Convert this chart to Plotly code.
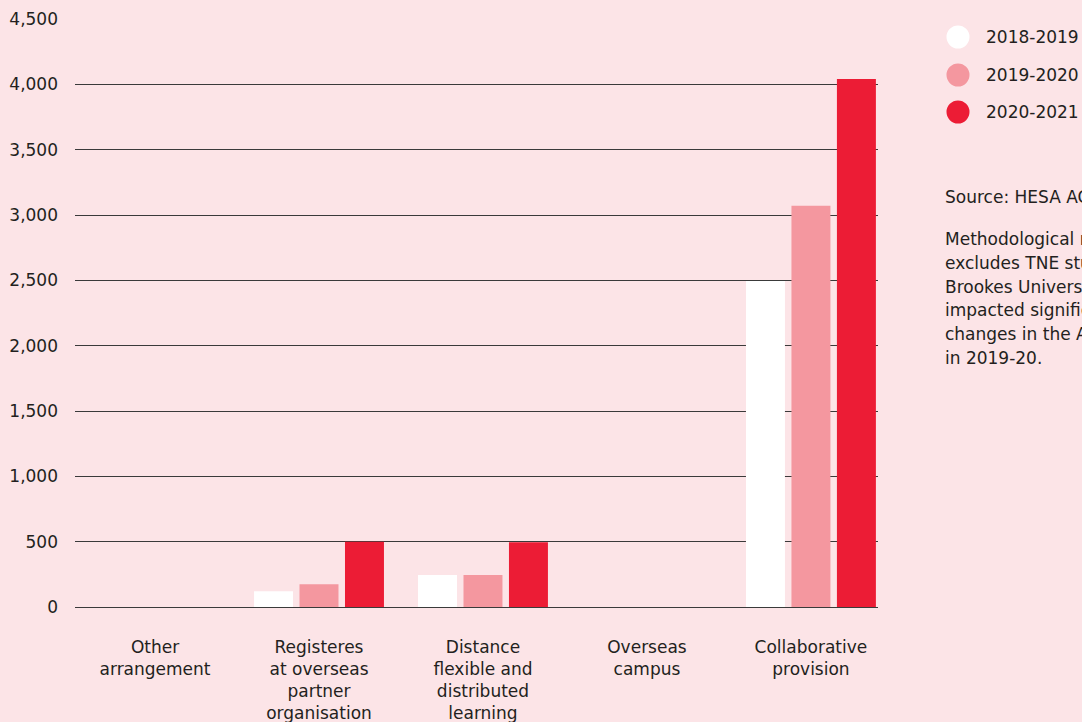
import plotly.graph_objects as go

# Categories and student counts per academic year
categories = [
    "Other<br>arrangement",
    "Registeres<br>at overseas<br>partner<br>organisation",
    "Distance<br>flexible and<br>distributed<br>learning",
    "Overseas<br>campus",
    "Collaborative<br>provision",
]
years = ["2018-2019", "2019-2020", "2020-2021"]
values_2018_19 = [0, 120, 245, 0, 2495]
values_2019_20 = [0, 175, 245, 0, 3070]
values_2020_21 = [0, 500, 495, 0, 4040]
y_ticks = [0, 500, 1000, 1500, 2000, 2500, 3000, 3500, 4000, 4500]

source_text = "Source: HESA AOR"
note_lines = [
    "Methodological note: this data",
    "excludes TNE students at Oxford",
    "Brookes University, which was",
    "impacted significantly by",
    "changes in the AOR collection",
    "in 2019-20.",
]

colors = ["#FFFFFF", "#F4979F", "#EC1C35"]
bg = "#FCE4E7"
text_color = "#231F20"
font_family = "DejaVu Sans"
font_size = 17

W, H = 1082, 722
ML, MR, MT, MB = 75, 204, 19, 115
PW, PH = W - ML - MR, H - MT - MB


def px_x(x):
    return (x - ML) / PW


def px_y(y):
    return (H - MB - y) / PH


fig = go.Figure()
for name, vals, col in zip(years, [values_2018_19, values_2019_20, values_2020_21], colors):
    fig.add_trace(go.Bar(
        x=list(range(len(categories))), y=vals, name=name,
        marker=dict(color=col, line=dict(width=0)),
        showlegend=False, hoverinfo="x+y+name",
    ))

# Legend: circular swatches with labels to the right of the plot
shapes = []
annotations = []
legend_y = [37, 75, 112]
for name, col, ly in zip(years, colors, legend_y):
    shapes.append(dict(
        type="circle", xref="paper", yref="paper",
        xsizemode="pixel", ysizemode="pixel",
        xanchor=px_x(958), yanchor=px_y(ly),
        x0=-11.5, x1=11.5, y0=-11.5, y1=11.5,
        fillcolor=col, line=dict(width=0),
    ))
    annotations.append(dict(
        xref="paper", yref="paper", x=px_x(984), y=px_y(ly),
        xanchor="left", yanchor="middle", showarrow=False,
        text=name, font=dict(size=font_size, color=text_color, family=font_family),
    ))

# Source and methodological note, one annotation per line for even leading
side_font = dict(size=font_size, color=text_color, family=font_family)
annotations.append(dict(
    xref="paper", yref="paper", x=px_x(943), y=px_y(197),
    xanchor="left", yanchor="middle", showarrow=False,
    text=source_text, font=side_font,
))
for i, line in enumerate(note_lines):
    annotations.append(dict(
        xref="paper", yref="paper", x=px_x(943), y=px_y(239 + 23.8 * i),
        xanchor="left", yanchor="middle", showarrow=False,
        text=line, font=side_font,
    ))

fig.update_layout(
    width=W, height=H,
    margin=dict(l=ML, r=MR, t=MT, b=MB, autoexpand=False),
    paper_bgcolor=bg, plot_bgcolor=bg,
    font=dict(family=font_family, size=font_size, color=text_color),
    barmode="group", bargap=0.168, bargroupgap=0.143,
    shapes=shapes, annotations=annotations,
    xaxis=dict(
        tickmode="array", tickvals=list(range(len(categories))), ticktext=categories,
        range=[-0.488, 4.409], showgrid=False, zeroline=False, showline=False,
        ticks="", ticklabelstandoff=28, tickfont=dict(size=font_size),
        fixedrange=True,
    ),
    yaxis=dict(
        range=[0, 4500], tickvals=y_ticks, tickformat=",d",
        showgrid=True, gridcolor="#3A3A3A", gridwidth=1,
        zeroline=True, zerolinecolor="#3A3A3A", zerolinewidth=1,
        showline=False, ticks="", ticklabelstandoff=16, tickfont=dict(size=font_size),
        fixedrange=True,
    ),
)

fig.write_html("out.html")
